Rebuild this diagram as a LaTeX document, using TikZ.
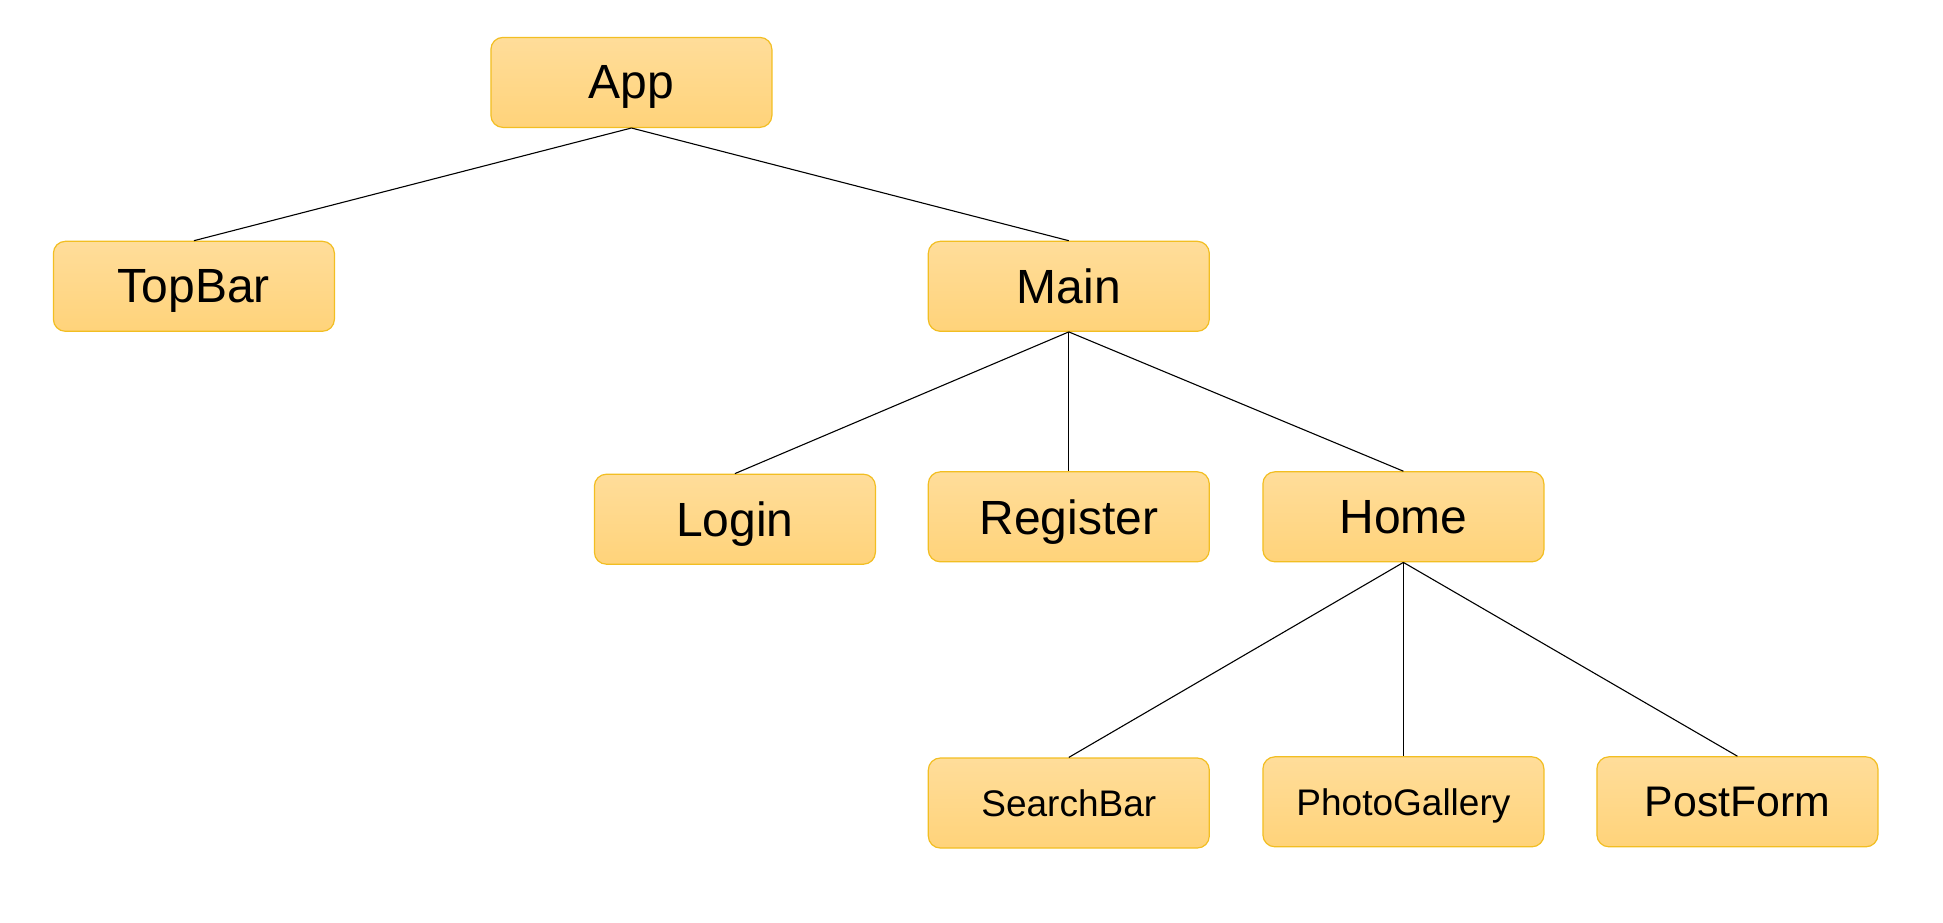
\documentclass[tikz,border=0pt]{standalone}
\usepackage{fontspec}
\setmainfont{Liberation Sans}
\definecolor{boxtop}{RGB}{255,221,154}
\definecolor{boxbot}{RGB}{255,211,122}
\definecolor{boxline}{RGB}{242,190,34}
\begin{document}
\begin{tikzpicture}
        [
            x=0.5pt,
            y=-0.5pt,
            thin,
            comp/.style={rectangle, rounded corners=6pt, draw=boxline, line width=0.6pt,
                top color=boxtop, bottom color=boxbot,
                minimum width=140.5pt, minimum height=45pt, inner sep=0pt,
                text depth=0pt,
                font=\fontsize{24}{28}\selectfont},
            small/.style={font=\fontsize{18.5}{22}\selectfont},
            link/.style={draw=black, line width=0.55pt}
        ]
        \useasboundingbox (0, 0) rectangle (1943, 922);
        \node[comp] (app) at (631.4, 82.4) {App};
        \node[comp] (topbar) at (193.9, 286.3) {TopBar};
        \node[comp] (main) at (1068.8, 286.3) {Main};
        \node[comp] (login) at (734.9, 519.2) {Login};
        \node[comp] (register) at (1068.8, 516.8) {Register};
        \node[comp] (home) at (1403.4, 516.8) {Home};
        \node[comp, small] (searchbar) at (1068.8, 803.0) {SearchBar};
        \node[comp, small] (gallery) at (1403.4, 801.8) {PhotoGallery};
        \node[comp, font=\fontsize{21.4}{25}\selectfont] (postform) at (1737.4, 801.8) {PostForm};

        \path[link]
        (app.south) edge (topbar.north)
        (app.south) edge (main.north)
        (main.south) edge (login.north)
        (main.south) edge (register.north)
        (main.south) edge (home.north)
        (home.south) edge (searchbar.north)
        (home.south) edge (gallery.north)
        (home.south) edge (postform.north);
    \end{tikzpicture}
\end{document}
